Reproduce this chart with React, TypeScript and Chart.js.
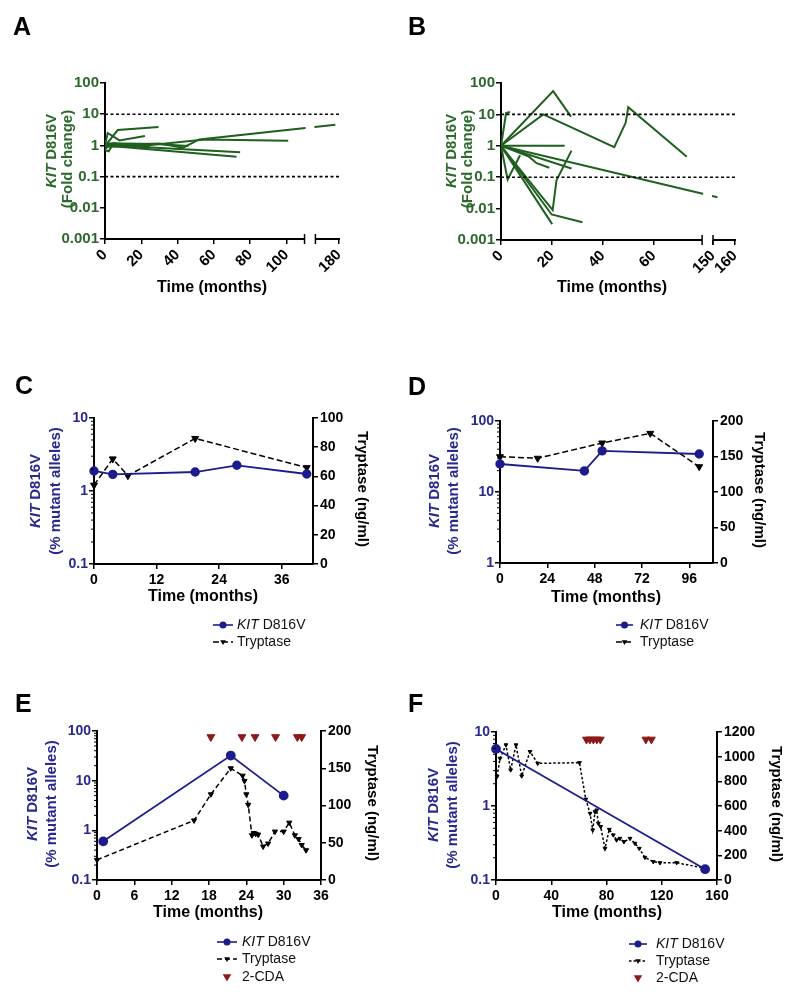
import React, { useEffect, useRef } from "react";
import { Chart, registerables } from "chart.js";

Chart.register(...registerables);

const FONT = '"Liberation Sans", Arial, Helvetica, sans-serif';
Chart.defaults.font.family = FONT;

const GREEN_LINE = "#1f5f1f";
const GREEN_TEXT = "#2b692b";
const BLUE_LINE = "#1c1c8c";
const BLUE_TEXT = "#28288f";
const DARK_RED = "#8c1a1a";
const BLACK = "#000000";

// ===== Panel A: KIT D816V fold change per patient, [months, fold change] =====
const A_xTickLabels = [0, 20, 40, 60, 80, 100, 180];
const A_yTickLabels = [0.001, 0.01, 0.1, 1, 10, 100];
const A_thresholds = [10, 0.1];
const A_pt1 = [[0, 0.95], [7, 3.1], [29.5, 3.9]];
const A_pt2 = [[0, 1.0], [1.5, 2.5], [8, 1.45], [22, 2.0]];
const A_pt3 = [[0, 1.0], [12, 1.05], [30, 1.15], [43, 0.85], [52, 1.55], [178, 4.6]];
const A_pt4 = [[0, 0.9], [20, 0.95], [55, 1.55], [101, 1.4]];
const A_pt5 = [[0, 1.05], [10, 0.95], [74.5, 0.6]];
const A_pt6 = [[0, 1.0], [72.5, 0.43]];
const A_pt7 = [[0, 0.75], [3, 1.1], [10, 1.15], [28, 1.1], [46, 0.95]];
const A_pt8 = [[0, 0.7], [2, 0.65], [4, 1.0], [15, 0.9]];
const A_pt9 = [[0, 1.1], [5, 1.2], [10, 1.1], [25, 0.85]];
const A_patients = [A_pt1, A_pt2, A_pt3, A_pt4, A_pt5, A_pt6, A_pt7, A_pt8, A_pt9];

// ===== Panel B =====
const B_xTickLabels = [0, 20, 40, 60, 150, 160];
const B_yTickLabels = [0.001, 0.01, 0.1, 1, 10, 100];
const B_thresholds = [10, 0.1];
const B_pt1 = [[0, 1], [20.5, 55], [27.5, 8.5]];
const B_pt2 = [[0, 1], [16.6, 10], [44.5, 0.9], [49, 5.5], [50, 17], [73, 0.45]];
const B_pt3 = [[0, 1], [2, 11], [3.5, 12]];
const B_pt4 = [[0, 1], [25, 1]];
const B_pt5 = [[0, 1], [152, 0.023]];
const B_pt6 = [[0, 1], [2.6, 0.085], [7.5, 0.5]];
const B_pt7 = [[0, 1], [20.3, 0.009], [21.8, 0.08], [27.7, 0.7]];
const B_pt8 = [[0, 1], [19.9, 0.0065], [32, 0.0037]];
const B_pt9 = [[0, 1], [20.1, 0.0032]];
const B_pt10 = [[0, 1], [11, 0.45], [14, 0.28], [19, 0.2]];
const B_pt11 = [[0, 1], [27.7, 0.19]];
const B_patients = [B_pt1, B_pt2, B_pt3, B_pt4, B_pt5, B_pt6, B_pt7, B_pt8, B_pt9, B_pt10, B_pt11];

// ===== Panel C =====
const C_xTicks = [0, 12, 24, 36];
const C_yLeftTicks = [0.1, 1, 10];
const C_yRightTicks = [0, 20, 40, 60, 80, 100];
const C_kit = [[0, 1.88], [3.6, 1.69], [19.4, 1.82], [27.4, 2.25], [40.8, 1.71]];
const C_tryptase = [[0, 54], [3.6, 72], [6.5, 60.5], [19.4, 86], [40.8, 66]];

// ===== Panel D =====
const D_xTicks = [0, 24, 48, 72, 96];
const D_yLeftTicks = [1, 10, 100];
const D_yRightTicks = [0, 50, 100, 150, 200];
const D_kit = [[0, 24.8], [42.8, 19.8], [51.8, 38], [101, 34.3]];
const D_tryptase = [[0, 149.7], [19.1, 147.5], [51.8, 169], [76.2, 182.6], [101, 135.6]];

// ===== Panel E =====
const E_xTicks = [0, 6, 12, 18, 24, 30, 36];
const E_yLeftTicks = [0.1, 1, 10, 100];
const E_yRightTicks = [0, 50, 100, 150, 200];
const E_kit = [[1, 0.6], [21.5, 32], [30, 5.0]];
const E_tryptase = [
  [0, 27], [15.6, 80], [18.3, 115], [21.5, 150], [23.4, 140], [23.7, 133], [24.0, 115],
  [24.3, 101], [24.9, 60], [25.2, 63], [25.5, 62], [25.9, 61], [26.7, 45], [27.5, 49],
  [28.6, 65], [30.0, 65], [30.9, 77], [31.8, 60], [32.4, 55], [32.9, 47], [33.6, 40],
];
const E_cdaMonths = [18.3, 23.3, 25.4, 28.7, 32.2, 32.9];
const E_cdaLevel = 192;

// ===== Panel F =====
const F_xTicks = [0, 40, 80, 120, 160];
const F_yLeftTicks = [0.1, 1, 10];
const F_yRightTicks = [0, 200, 400, 600, 800, 1000, 1200];
const F_kit = [[0, 5.9], [151.4, 0.14]];
const F_tryptase = [
  [0.8, 840], [2.9, 986], [7.2, 1095], [10.6, 892], [14.5, 1095], [18.6, 843], [24.6, 1041],
  [30.2, 946], [60.4, 951], [65, 655], [68.1, 540], [70, 405], [71.7, 553], [72.9, 567],
  [74.1, 459], [75.8, 432], [78.9, 256], [82, 410], [84.9, 365], [87.3, 324], [89.7, 337],
  [92.6, 310], [97, 337], [100.6, 297], [103.7, 256], [107.8, 183], [113.9, 148],
  [118.7, 140], [130.8, 140], [151.4, 95],
];
const F_cdaMonths = [65.5, 68, 70.5, 73, 75.5, 108.5, 112.5];
const F_cdaLevel = 1140;

// ---------- helpers ----------
function makeBreak(b) {
  const toDisp = (x) => (x <= b.end1 ? x : b.end1 + b.gap + (x - b.start2) * b.scale2);
  return { toDisp, max: toDisp(b.end2), gapStart: b.end1, gapEnd: b.end1 + b.gap };
}
const A_break = makeBreak({ end1: 110, gap: 6, start2: 167, end2: 180, scale2: 1 });
const B_break = makeBreak({ end1: 79, gap: 4.3, start2: 150, end2: 160, scale2: 0.863 });

const KIT_SEGS = [{ t: "KIT", i: true }, { t: " D816V" }];

function drawRich(ctx, it) {
  ctx.save();
  ctx.translate(it.x, it.y);
  if (it.rot) ctx.rotate((it.rot * Math.PI) / 180);
  ctx.fillStyle = it.color;
  ctx.textBaseline = it.baseline || "middle";
  ctx.textAlign = "left";
  const fonts = it.segs.map((s) => `${s.i ? "italic " : ""}${it.bold ? "bold " : ""}${it.size}px ${FONT}`);
  const widths = it.segs.map((s, k) => {
    ctx.font = fonts[k];
    return ctx.measureText(s.t).width;
  });
  const total = widths.reduce((a, b) => a + b, 0);
  let x = it.align === "left" ? 0 : -total / 2;
  it.segs.forEach((s, k) => {
    ctx.font = fonts[k];
    ctx.fillText(s.t, x, 0);
    x += widths[k];
  });
  ctx.restore();
}

function drawMarker(ctx, kind, x, y, r, color) {
  ctx.save();
  ctx.fillStyle = color;
  ctx.strokeStyle = color;
  ctx.setLineDash([]);
  ctx.beginPath();
  if (kind === "circle") {
    ctx.arc(x, y, r, 0, Math.PI * 2);
  } else {
    ctx.moveTo(x, y + r);
    ctx.lineTo(x - r * 0.95, y - r * 0.6);
    ctx.lineTo(x + r * 0.95, y - r * 0.6);
    ctx.closePath();
  }
  ctx.fill();
  ctx.restore();
}

function line(ctx, x0, y0, x1, y1) {
  ctx.beginPath();
  ctx.moveTo(x0, y0);
  ctx.lineTo(x1, y1);
  ctx.stroke();
}

function decorPlugin(d) {
  return {
    id: "decor",
    beforeDatasetsDraw(chart) {
      chart.$bandDone = false;
    },
    beforeDatasetDraw(chart, args) {
      if (!d.brk) return;
      const ds = chart.data.datasets[args.index];
      if (ds.label !== "threshold" || chart.$bandDone) return;
      chart.$bandDone = true;
      const xs = chart.scales.x;
      const ca = chart.chartArea;
      const g0 = xs.getPixelForValue(d.brk.gapStart);
      const g1 = xs.getPixelForValue(d.brk.gapEnd);
      const ctx = chart.ctx;
      ctx.save();
      ctx.fillStyle = "#ffffff";
      ctx.fillRect(g0 + 1, ca.top - 3, g1 - g0 - 2, ca.bottom - ca.top + 2);
      ctx.restore();
    },
    afterDraw(chart) {
      const ctx = chart.ctx;
      const ca = chart.chartArea;
      ctx.save();
      ctx.strokeStyle = BLACK;
      if (d.brk) {
        const xs = chart.scales.x;
        const g0 = xs.getPixelForValue(d.brk.gapStart);
        const g1 = xs.getPixelForValue(d.brk.gapEnd);
        const yb = ca.bottom;
        ctx.lineWidth = 2;
        line(ctx, ca.left - 1, yb, g0, yb);
        line(ctx, g1, yb, ca.right + 1, yb);
        ctx.lineWidth = 1.5;
        line(ctx, g0, yb - 5, g0, yb + 5);
        line(ctx, g1, yb - 5, g1, yb + 5);
      }
      if (d.minorLog) {
        const s = chart.scales.yL;
        ctx.lineWidth = 1;
        for (let dec = s.min; dec < s.max * 0.999; dec *= 10) {
          for (let k = 2; k <= 9; k++) {
            const y = s.getPixelForValue(dec * k);
            line(ctx, ca.left - 3, y, ca.left, y);
          }
        }
      }
      ctx.restore();
      (d.texts || []).forEach((t) => drawRich(ctx, t));
      (d.legend || []).forEach((it) => {
        ctx.save();
        if (it.kind !== "cda") {
          ctx.strokeStyle = it.color;
          ctx.lineWidth = 1.6;
          ctx.setLineDash(it.dash || []);
          line(ctx, it.x0, it.y, it.x1, it.y);
        }
        ctx.restore();
        const mx = (it.x0 + it.x1) / 2;
        if (it.kind === "kit") drawMarker(ctx, "circle", mx, it.y, 3.5, it.color);
        else drawMarker(ctx, "tri", mx, it.y, it.kind === "cda" ? 4.5 : 3, it.color);
        drawRich(ctx, { x: it.tx, y: it.y, segs: it.segs, size: 14, color: "#111111", align: "left" });
      });
    },
  };
}

const tickFont = (size) => ({ family: FONT, size, weight: "bold" });
const gridOpts = { display: true, drawOnChartArea: false, drawTicks: true, tickLength: 5, color: BLACK, lineWidth: 1.5 };
const borderOpts = { display: true, color: BLACK, width: 2 };
const fmt = (v) => String(Number(v));

function letter(ch, x, y) {
  return { x, y, segs: [{ t: ch }], size: 25, bold: true, color: BLACK, align: "left", baseline: "alphabetic" };
}

function foldConfig(p) {
  const brk = p.brk;
  const datasets = p.lines.map((pts) => ({
    label: "patient",
    data: pts.map(([x, y]) => ({ x: brk.toDisp(x), y })),
    borderColor: GREEN_LINE,
    backgroundColor: GREEN_LINE,
    borderWidth: 2,
    pointRadius: 0,
    tension: 0,
    order: 0,
  }));
  p.thresholds.forEach((t) =>
    datasets.push({
      label: "threshold",
      data: [{ x: 0, y: t }, { x: brk.max, y: t }],
      borderColor: BLACK,
      borderWidth: 1.6,
      borderDash: [3, 2.5],
      pointRadius: 0,
      order: -1,
    })
  );
  return {
    type: "line",
    data: { datasets },
    options: {
      animation: false,
      responsive: false,
      devicePixelRatio: 1,
      layout: { padding: p.padding },
      plugins: { legend: { display: false }, tooltip: { enabled: false } },
      scales: {
        x: {
          type: "linear",
          min: 0,
          max: brk.max,
          afterBuildTicks: (s) => {
            s.ticks = p.xTicks.map((v) => ({ value: brk.toDisp(v) }));
          },
          afterFit: (s) => {
            s.height = p.xAxisH;
          },
          border: { display: false },
          grid: gridOpts,
          ticks: {
            autoSkip: false,
            maxRotation: 45,
            minRotation: 45,
            padding: 2,
            color: BLACK,
            font: tickFont(15),
            callback: (v, i) => String(p.xTicks[i]),
          },
        },
        y: {
          type: "logarithmic",
          position: "left",
          min: p.yTicks[0],
          max: p.yTicks[p.yTicks.length - 1],
          afterBuildTicks: (s) => {
            s.ticks = p.yTicks.map((v) => ({ value: v }));
          },
          afterFit: (s) => {
            s.width = p.yAxisW;
          },
          border: borderOpts,
          grid: gridOpts,
          ticks: { autoSkip: false, padding: 1, color: GREEN_TEXT, font: tickFont(15), callback: fmt },
        },
      },
    },
    plugins: [decorPlugin({ brk, texts: p.texts })],
  };
}

function dualConfig(p) {
  const datasets = [
    {
      label: "kit",
      data: p.kit.map(([x, y]) => ({ x, y })),
      yAxisID: "yL",
      borderColor: BLUE_LINE,
      backgroundColor: BLUE_LINE,
      pointBackgroundColor: BLUE_LINE,
      pointBorderColor: BLUE_LINE,
      borderWidth: 1.8,
      pointRadius: p.kitR,
      pointStyle: "circle",
      tension: 0,
      clip: false,
    },
    {
      label: "tryptase",
      data: p.tryptase.map(([x, y]) => ({ x, y })),
      yAxisID: "yR",
      borderColor: BLACK,
      backgroundColor: BLACK,
      pointBackgroundColor: BLACK,
      pointBorderColor: BLACK,
      borderWidth: 1.5,
      borderDash: p.trypDash,
      pointStyle: "triangle",
      pointRotation: 180,
      pointRadius: p.trypR,
      pointBorderWidth: 1,
      tension: 0,
      clip: false,
    },
  ];
  if (p.cda) {
    datasets.push({
      label: "cda",
      data: p.cda.map((m) => ({ x: m, y: p.cdaLevel })),
      yAxisID: "yR",
      showLine: false,
      borderColor: DARK_RED,
      backgroundColor: DARK_RED,
      pointBackgroundColor: DARK_RED,
      pointBorderColor: DARK_RED,
      pointStyle: "triangle",
      pointRotation: 180,
      pointRadius: 4.5,
      clip: false,
    });
  }
  return {
    type: "line",
    data: { datasets },
    options: {
      animation: false,
      responsive: false,
      devicePixelRatio: 1,
      layout: { padding: p.padding },
      plugins: { legend: { display: false }, tooltip: { enabled: false } },
      scales: {
        x: {
          type: "linear",
          min: 0,
          max: p.xMax,
          afterBuildTicks: (s) => {
            s.ticks = p.xTicks.map((v) => ({ value: v }));
          },
          afterFit: (s) => {
            s.height = p.xAxisH;
          },
          border: borderOpts,
          grid: gridOpts,
          ticks: { autoSkip: false, maxRotation: 0, padding: 3, color: BLACK, font: tickFont(14), callback: fmt },
        },
        yL: {
          type: "logarithmic",
          position: "left",
          min: p.yLTicks[0],
          max: p.yLTicks[p.yLTicks.length - 1],
          afterBuildTicks: (s) => {
            s.ticks = p.yLTicks.map((v) => ({ value: v }));
          },
          afterFit: (s) => {
            s.width = p.yLW;
          },
          border: borderOpts,
          grid: gridOpts,
          ticks: { autoSkip: false, padding: 1, color: BLUE_TEXT, font: tickFont(14), callback: fmt },
        },
        yR: {
          type: "linear",
          position: "right",
          min: p.yRTicks[0],
          max: p.yRTicks[p.yRTicks.length - 1],
          afterBuildTicks: (s) => {
            s.ticks = p.yRTicks.map((v) => ({ value: v }));
          },
          afterFit: (s) => {
            s.width = p.yRW;
          },
          border: borderOpts,
          grid: gridOpts,
          ticks: { autoSkip: false, padding: 2, color: BLACK, font: tickFont(14), callback: fmt },
        },
      },
    },
    plugins: [decorPlugin({ minorLog: true, texts: p.texts, legend: p.legend })],
  };
}

function leftTitles(x1, x2, yc, color, second) {
  return [
    { x: x1, y: yc, rot: -90, segs: KIT_SEGS, size: 15, bold: true, color },
    { x: x2, y: yc, rot: -90, segs: [{ t: second }], size: 15, bold: true, color },
  ];
}
function xTitle(x, y) {
  return { x, y, segs: [{ t: "Time (months)" }], size: 16, bold: true, color: BLACK };
}
function rightTitle(x, y) {
  return { x, y, rot: 90, segs: [{ t: "Tryptase (ng/ml)" }], size: 15, bold: true, color: BLACK };
}
function legendItems(x0, x1, tx, ys, trypDash, withCda) {
  const items = [
    { kind: "kit", x0, x1, tx, y: ys[0], color: BLUE_LINE, segs: [{ t: "KIT", i: true }, { t: " D816V" }] },
    { kind: "tryp", x0, x1, tx, y: ys[1], color: BLACK, dash: trypDash, segs: [{ t: "Tryptase" }] },
  ];
  if (withCda) items.push({ kind: "cda", x0, x1, tx, y: ys[2], color: DARK_RED, segs: [{ t: "2-CDA" }] });
  return items;
}

const panelA = {
  lines: A_patients,
  brk: A_break,
  xTicks: A_xTickLabels,
  yTicks: A_yTickLabels,
  thresholds: A_thresholds,
  padding: { left: 5, right: 61, top: 83, bottom: 5 },
  yAxisW: 100,
  xAxisH: 56,
  texts: [
    letter("A", 13, 35),
    { x: 52, y: 151, rot: -90, segs: KIT_SEGS, size: 15, bold: true, color: GREEN_TEXT },
    { x: 68, y: 159, rot: -90, segs: [{ t: "(Fold change)" }], size: 15, bold: true, color: GREEN_TEXT },
    xTitle(212, 288),
  ],
};

const panelB = {
  lines: B_patients,
  brk: B_break,
  xTicks: B_xTickLabels,
  yTicks: B_yTickLabels,
  thresholds: B_thresholds,
  padding: { left: 5, right: 65, top: 83, bottom: 5 },
  yAxisW: 96,
  xAxisH: 55,
  texts: [
    letter("B", 8, 35),
    { x: 52, y: 151, rot: -90, segs: KIT_SEGS, size: 15, bold: true, color: GREEN_TEXT },
    { x: 68, y: 159, rot: -90, segs: [{ t: "(Fold change)" }], size: 15, bold: true, color: GREEN_TEXT },
    xTitle(212, 288),
  ],
};

const TRYP_DASH_CD = [6, 3];
const TRYP_DASH_E = [5, 3];
const TRYP_DASH_F = [2.5, 2];

const panelC = {
  kit: C_kit,
  tryptase: C_tryptase,
  kitR: 3.8,
  trypR: 4,
  trypDash: TRYP_DASH_CD,
  xMax: 42,
  xTicks: C_xTicks,
  yLTicks: C_yLeftTicks,
  yRTicks: C_yRightTicks,
  padding: { left: 5, right: 5, top: 118, bottom: 5 },
  yLW: 89,
  yRW: 82,
  xAxisH: 81,
  texts: [
    letter("C", 15, 94),
    ...leftTitles(36, 56, 191, BLUE_TEXT, "(% mutant alleles)"),
    rightTitle(362, 189),
    xTitle(203, 297),
  ],
  legend: legendItems(213, 233, 237, [325, 342], TRYP_DASH_CD, false),
};

const panelD = {
  kit: D_kit,
  tryptase: D_tryptase,
  kitR: 3.8,
  trypR: 4,
  trypDash: TRYP_DASH_CD,
  xMax: 108,
  xTicks: D_xTicks,
  yLTicks: D_yLeftTicks,
  yRTicks: D_yRightTicks,
  padding: { left: 5, right: 5, top: 121, bottom: 5 },
  yLW: 95,
  yRW: 82,
  xAxisH: 82,
  texts: [
    letter("D", 8, 95),
    ...leftTitles(35, 54, 191, BLUE_TEXT, "(% mutant alleles)"),
    rightTitle(359, 190),
    xTitle(206, 298),
  ],
  legend: legendItems(216, 233, 240, [325, 342], TRYP_DASH_CD, false),
};

const panelE = {
  kit: E_kit,
  tryptase: E_tryptase,
  cda: E_cdaMonths,
  cdaLevel: E_cdaLevel,
  kitR: 4,
  trypR: 3,
  trypDash: TRYP_DASH_E,
  xMax: 36,
  xTicks: E_xTicks,
  yLTicks: E_yLeftTicks,
  yRTicks: E_yRightTicks,
  padding: { left: 5, right: 5, top: 81, bottom: 5 },
  yLW: 92,
  yRW: 74,
  xAxisH: 111,
  texts: [
    letter("E", 15, 62),
    ...leftTitles(33, 52, 154, BLUE_TEXT, "(% mutant alleles)"),
    rightTitle(372, 153),
    xTitle(208, 263),
  ],
  legend: legendItems(217, 237, 242, [292, 309, 327], TRYP_DASH_E, true),
};

const panelF = {
  kit: F_kit,
  tryptase: F_tryptase,
  cda: F_cdaMonths,
  cdaLevel: F_cdaLevel,
  kitR: 4,
  trypR: 2.2,
  trypDash: TRYP_DASH_F,
  xMax: 160,
  xTicks: F_xTicks,
  yLTicks: F_yLeftTicks,
  yRTicks: F_yRightTicks,
  padding: { left: 5, right: 5, top: 82, bottom: 5 },
  yLW: 91,
  yRW: 78,
  xAxisH: 111,
  texts: [
    letter("F", 8, 62),
    ...leftTitles(34, 53, 155, BLUE_TEXT, "(% mutant alleles)"),
    rightTitle(376, 154),
    xTitle(207, 263),
  ],
  legend: legendItems(229, 247, 256, [294, 311, 328], TRYP_DASH_F, true),
};

function ChartCanvas({ left, top, width, height, make }) {
  const ref = useRef(null);
  useEffect(() => {
    const chart = new Chart(ref.current, make());
    return () => chart.destroy();
  }, []);
  return (
    <canvas
      ref={ref}
      width={width}
      height={height}
      style={{ position: "absolute", left, top, width, height, display: "block" }}
    />
  );
}

export default function App() {
  return (
    <div style={{ position: "absolute", left: 0, top: 0, width: 800, height: 996, background: "#ffffff", overflow: "hidden" }}>
      <ChartCanvas left={0} top={0} width={400} height={300} make={() => foldConfig(panelA)} />
      <ChartCanvas left={400} top={0} width={400} height={300} make={() => foldConfig(panelB)} />
      <ChartCanvas left={0} top={300} width={400} height={350} make={() => dualConfig(panelC)} />
      <ChartCanvas left={400} top={300} width={400} height={350} make={() => dualConfig(panelD)} />
      <ChartCanvas left={0} top={650} width={400} height={346} make={() => dualConfig(panelE)} />
      <ChartCanvas left={400} top={650} width={400} height={346} make={() => dualConfig(panelF)} />
    </div>
  );
}
